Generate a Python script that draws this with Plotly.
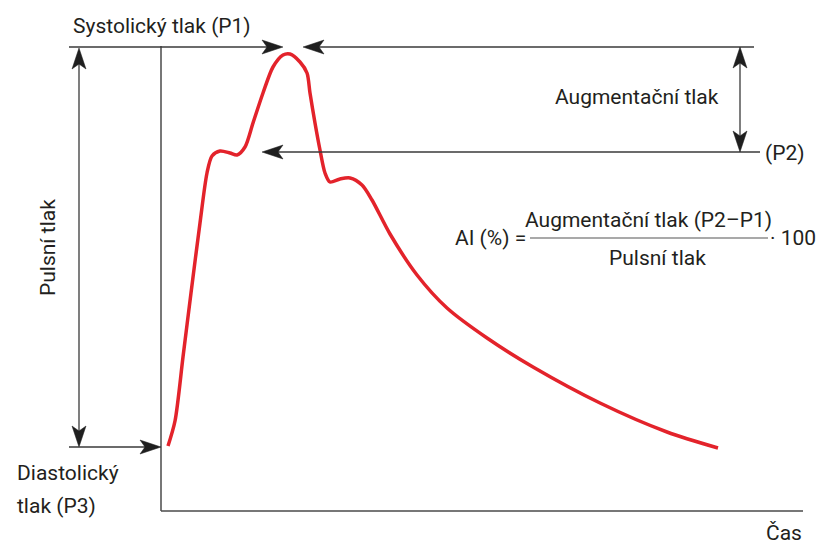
import plotly.graph_objects as go

# Pulse-wave curve (time and pressure in arbitrary units)
time = [7, 14, 22, 30, 39, 46, 51, 59, 69, 76, 84, 92, 102, 112, 122, 129, 139, 146,
        149, 154, 159, 164, 169, 179, 189, 201, 211, 229, 256, 286, 326, 372, 439, 506, 557]
pressure = [65, 90, 154, 218, 288, 338, 355, 360, 358, 356, 364, 388, 418, 444, 456,
            457, 449, 438, 418, 388, 361, 338, 329, 332, 333, 326, 311, 277, 236, 203,
            173, 144, 108, 79, 63]

# reference levels
P1 = 464   # systolic
P2 = 359   # augmentation point
P3 = 64    # diastolic
T_MAX = 642

FONT = "Roboto"
TXT = "#231f20"
LINE = "#3a3a3a"
RED = "#e3232b"

fig = go.Figure()
fig.add_trace(go.Scatter(x=time, y=pressure, mode="lines",
                         line=dict(color=RED, width=3.5, shape="spline", smoothing=0.8),
                         hoverinfo="skip", showlegend=False))

shapes = []

def seg(x0, y0, x1, y1, color=LINE, w=1.3):
    shapes.append(dict(type="line", xref="x", yref="y", x0=x0, y0=y0, x1=x1, y1=y1,
                       line=dict(color=color, width=w)))

def head(x, y, direction):
    L, H, N = 21, 7, 16
    if direction == "right":
        pts = [(0, 0), (-L, H), (-N, 0), (-L, -H)]
    elif direction == "left":
        pts = [(0, 0), (L, H), (N, 0), (L, -H)]
    elif direction == "up":
        pts = [(0, 0), (-H, -L), (0, -N), (H, -L)]
    else:
        pts = [(0, 0), (-H, L), (0, N), (H, L)]
    path = "M" + " L".join(f"{a},{b}" for a, b in pts) + " Z"
    shapes.append(dict(type="path", xref="x", yref="y", xsizemode="pixel", ysizemode="pixel",
                       xanchor=x, yanchor=y, path=path, fillcolor="#1f1f1f",
                       line=dict(width=0.5, color="#1f1f1f")))

# axes
seg(0, 0, 0, P1 + 1, color="#4a4a4a", w=1.5)
seg(0, 0, T_MAX, 0, color="#4a4a4a", w=1.5)

# systolic line with two arrows
seg(-92, P1, 110, P1)
head(122, P1, "right")
seg(155, P1, 593, P1)
head(142, P1, "left")

# P2 line
seg(115, P2, 599, P2)
head(101, P2, "left")

# augmentation double arrow
seg(579, P1 - 10, 579, P2 + 10)
head(579, P1, "up")
head(579, P2, "down")

# pulse pressure double arrow
seg(-82, P1 - 10, -82, P3 + 10)
head(-82, P1 - 1, "up")
head(-82, P3, "down")

# diastolic arrow
seg(-92, P3, -10, P3)
head(0, P3, "right")

# fraction bar
seg(369, 273, 607, 273, color="#555555", w=1.2)

anns = []

def txt(x, y, s, xa="center", size=21, angle=0):
    anns.append(dict(x=x, y=y, xref="x", yref="y", text=s, showarrow=False,
                     xanchor=xa, yanchor="middle", textangle=angle,
                     font=dict(family=FONT, size=size, color=TXT)))

txt(1, 485, "Systolický tlak (P1)")
txt(476, 414, "Augmentační tlak")
txt(602, 358, "(P2)", xa="left")
txt(-113, 263, "Pulsní tlak", angle=-90)
txt(-146, 38, "Diastolický", xa="left")
txt(-146, 5, "tlak (P3)", xa="left")
txt(643, -22, "Čas", xa="right")
txt(367, 273, "AI (%) =", xa="right")
txt(487, 291, "Augmentační tlak (P2–P1)")
txt(496, 253, "Pulsní tlak")
txt(607, 273, "· 100", xa="left")

fig.update_layout(
    width=829, height=546,
    margin=dict(l=0, r=0, t=0, b=0),
    paper_bgcolor="white", plot_bgcolor="white",
    xaxis=dict(range=[-161, 668], visible=False, fixedrange=True),
    yaxis=dict(range=[-35, 511], visible=False, fixedrange=True),
    shapes=shapes, annotations=anns, showlegend=False,
)

fig.write_html("out.html", config={"displayModeBar": False},
               post_script="document.body.style.margin='0';document.body.style.overflow='hidden';")
